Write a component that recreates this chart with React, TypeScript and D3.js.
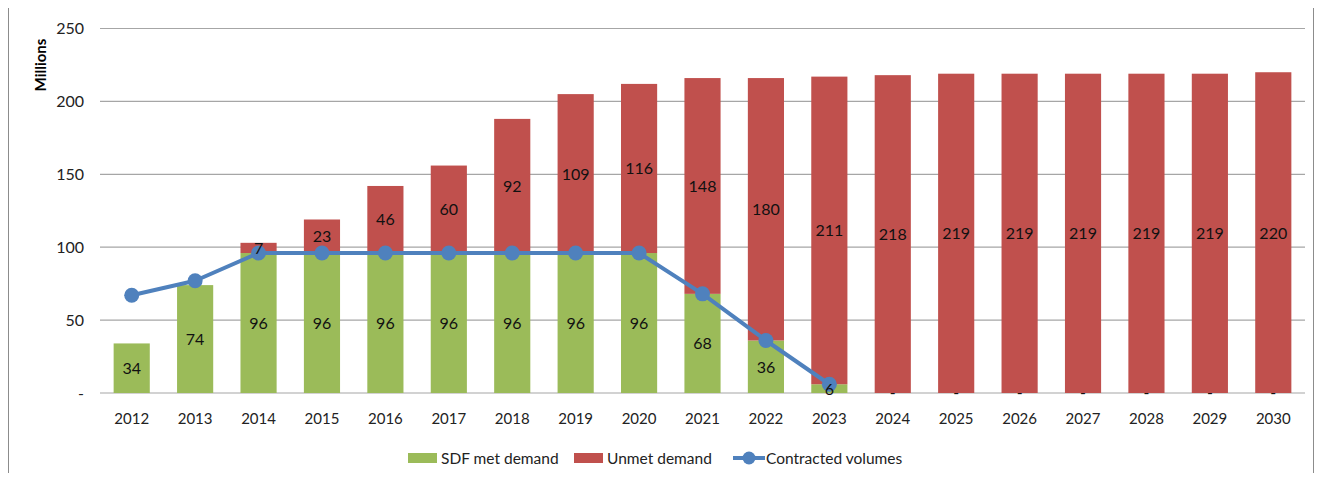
import React, { useRef, useEffect } from 'react';
import * as d3 from 'd3';

const years = ['2012', '2013', '2014', '2015', '2016', '2017', '2018', '2019', '2020', '2021', '2022', '2023', '2024', '2025', '2026', '2027', '2028', '2029', '2030'];
const sdfMet = [34, 74, 96, 96, 96, 96, 96, 96, 96, 68, 36, 6, 0, 0, 0, 0, 0, 0, 0];
const unmet = [0, 0, 7, 23, 46, 60, 92, 109, 116, 148, 180, 211, 218, 219, 219, 219, 219, 219, 220];
const contracted = [67, 77, 96, 96, 96, 96, 96, 96, 96, 68, 36, 6];
const yTicks = [0, 50, 100, 150, 200, 250];

export default function App() {
  const ref = useRef<HTMLDivElement>(null);

  useEffect(() => {
    const width = 1327;
    const height = 481;
    const margin = { top: 28.5, right: 22, bottom: 88, left: 100 };
    const font = 'Lato, "Open Sans", sans-serif';

    const svg = d3
      .select(ref.current)
      .call((g) => g.select('svg').remove())
      .append('svg')
      .attr('width', width)
      .attr('height', height)
      .style('display', 'block')
      .style('font-family', font);

    svg.append('rect')
      .attr('x', 8.5).attr('y', 7.5)
      .attr('width', 1305).attr('height', 480)
      .attr('fill', '#fff').attr('stroke', '#8c8c8c');

    const x = d3.scaleBand().domain(years).range([margin.left, width - margin.right]).paddingInner(0.43).paddingOuter(0.215);
    const y = d3.scaleLinear().domain([0, 250]).range([height - margin.bottom, margin.top]);

    // grid + y labels
    svg.append('g').selectAll('line').data(yTicks).join('line')
      .attr('x1', margin.left).attr('x2', width - margin.right)
      .attr('y1', (d) => y(d)).attr('y2', (d) => y(d))
      .attr('stroke', '#a6a6a6').attr('stroke-width', 1.2);

    svg.append('g').selectAll('text').data(yTicks).join('text')
      .attr('x', 84).attr('y', (d) => y(d) + 5.5)
      .attr('text-anchor', 'end').attr('font-size', 16).attr('fill', '#222')
      .text((d) => (d === 0 ? '-' : String(d)));

    svg.append('text')
      .attr('transform', `translate(46, 65) rotate(-90)`)
      .attr('text-anchor', 'middle').attr('font-size', 15).attr('font-weight', 'bold')
      .attr('fill', '#000').text('Millions');

    // bars
    const rows = years.map((yr, i) => ({ yr, met: sdfMet[i], un: unmet[i] }));
    svg.append('g').selectAll('rect').data(rows).join('rect')
      .attr('x', (d) => x(d.yr)!).attr('width', x.bandwidth())
      .attr('y', (d) => y(d.met)).attr('height', (d) => y(0) - y(d.met))
      .attr('fill', '#9bbb59');
    svg.append('g').selectAll('rect').data(rows).join('rect')
      .attr('x', (d) => x(d.yr)!).attr('width', x.bandwidth())
      .attr('y', (d) => y(d.met + d.un)).attr('height', (d) => y(d.met) - y(d.met + d.un))
      .attr('fill', '#c0504d');

    // line
    const line = d3.line<number>()
      .x((d, i) => x(years[i])! + x.bandwidth() / 2)
      .y((d) => y(d));
    svg.append('path').attr('d', line(contracted))
      .attr('fill', 'none').attr('stroke', '#4f81bd').attr('stroke-width', 4)
      .attr('stroke-linejoin', 'round');
    svg.append('g').selectAll('circle').data(contracted).join('circle')
      .attr('cx', (d, i) => x(years[i])! + x.bandwidth() / 2)
      .attr('cy', (d) => y(d)).attr('r', 7.5).attr('fill', '#4f81bd');

    // data labels
    const lab = svg.append('g').attr('font-size', 16).attr('fill', '#111').attr('text-anchor', 'middle');
    rows.forEach((d) => {
      const cx = x(d.yr)! + x.bandwidth() / 2;
      lab.append('text').attr('x', cx)
        .attr('y', d.met === 0 ? y(0) + 5 : y(d.met / 2) + 6)
        .text(d.met === 0 ? '-' : String(d.met));
      if (d.un > 0) {
        lab.append('text').attr('x', cx).attr('y', y(d.met + d.un / 2) + 6).text(String(d.un));
      }
    });

    // x labels
    svg.append('g').selectAll('text').data(years).join('text')
      .attr('x', (d) => x(d)! + x.bandwidth() / 2).attr('y', 424)
      .attr('text-anchor', 'middle').attr('font-size', 15).attr('fill', '#222')
      .text((d) => d);

    // legend
    const lg = svg.append('g').attr('font-size', 15.5).attr('fill', '#222');
    lg.append('rect').attr('x', 408).attr('y', 453).attr('width', 29).attr('height', 10).attr('fill', '#9bbb59');
    lg.append('text').attr('x', 441).attr('y', 464).text('SDF met demand');
    lg.append('rect').attr('x', 574).attr('y', 453).attr('width', 29).attr('height', 10).attr('fill', '#c0504d');
    lg.append('text').attr('x', 607).attr('y', 464).text('Unmet demand');
    lg.append('line').attr('x1', 733).attr('x2', 765).attr('y1', 458).attr('y2', 458)
      .attr('stroke', '#4f81bd').attr('stroke-width', 4);
    lg.append('circle').attr('cx', 749).attr('cy', 458).attr('r', 6.5).attr('fill', '#4f81bd');
    lg.append('text').attr('x', 766).attr('y', 464).text('Contracted volumes');
  }, []);

  return <div ref={ref} style={{ margin: '-8px' }}></div>;
}
